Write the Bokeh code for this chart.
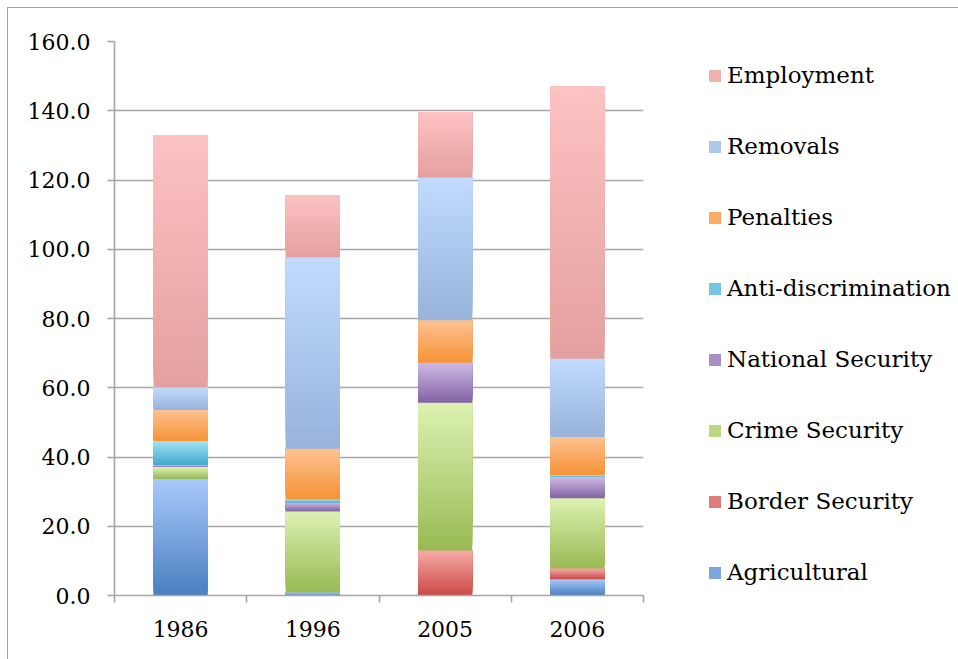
from bokeh.plotting import figure
from bokeh.models import (ColumnDataSource, Range1d, FixedTicker, NumeralTickFormatter,
                          Legend, LegendItem, SingleIntervalTicker)
from bokeh.embed import file_html
from bokeh.resources import INLINE

# ---- data ----
categories = ["1986", "1996", "2005", "2006"]
series = ["Agricultural", "Border Security", "Crime Security", "National Security",
          "Anti-discrimination", "Penalties", "Removals", "Employment"]
agricultural = [33.7, 0.9, 0.0, 4.7]
border_security = [0.0, 0.0, 13.0, 3.1]
crime_security = [3.4, 23.4, 42.7, 20.3]
national_security = [0.6, 2.6, 11.5, 6.1]
anti_discrimination = [6.9, 0.8, 0.0, 0.6]
penalties = [9.0, 14.7, 12.3, 11.0]
removals = [6.5, 55.3, 41.2, 22.6]
employment = [72.8, 17.9, 18.8, 78.6]
values = [agricultural, border_security, crime_security, national_security,
          anti_discrimination, penalties, removals, employment]

# gradient colours (light top, dark bottom)
light = ["#a9c9f9", "#f5aaa6", "#ddf2b2", "#cdbae6", "#a2e2f5", "#fdc292", "#c2dbff", "#fdc2c2"]
dark = ["#4a7fc2", "#cb4b47", "#99b953", "#8262a3", "#43a9cb", "#f69335", "#97b3db", "#e3a09e"]

FONT = "DejaVu Serif"
GRID = "#a6a6a6"

p = figure(frame_width=529, frame_height=554, output_backend="svg", toolbar_location=None,
           x_range=Range1d(0, 4), y_range=Range1d(0, 160),
           min_border_left=106, min_border_top=33, min_border_bottom=64, min_border_right=315,
           outline_line_color=None)
p.margin = (7, 0, 0, 7)
p.styles = {"border-top": "1px solid #a0a0a0", "border-left": "1px solid #a0a0a0"}


def hex2rgb(h):
    return tuple(int(h[i:i + 2], 16) for i in (1, 3, 5))


def rgb2hex(c):
    return "#%02x%02x%02x" % tuple(int(round(v)) for v in c)


N = 40
bar_w = 0.41
base = [0.0] * len(categories)
renderers = []
for s, (vals, lc, dc) in enumerate(zip(values, light, dark)):
    L, D = hex2rgb(lc), hex2rgb(dc)
    xs, bots, tops, cols = [], [], [], []
    for i, v in enumerate(vals):
        b0 = base[i]
        for k in range(N):
            f = (k + 0.5) / N
            xs.append(i + 0.5)
            # each slice reaches the segment top; later slices paint over it
            bots.append(b0 + v * k / N)
            tops.append(b0 + v)
            cols.append(rgb2hex([D[j] + (L[j] - D[j]) * f for j in range(3)]))
        base[i] = b0 + v
    src = ColumnDataSource(dict(x=xs, bottom=bots, top=tops, color=cols))
    r = p.vbar(x="x", bottom="bottom", top="top", width=bar_w, source=src,
               fill_color="color", line_color=None)
    renderers.append(r)

# axes
p.xgrid.visible = False
p.ygrid.ticker = SingleIntervalTicker(interval=20)
p.ygrid.grid_line_color = GRID
p.ygrid.grid_line_width = 1.6

ya = p.yaxis[0]
ya.ticker = SingleIntervalTicker(interval=20)
ya.formatter = NumeralTickFormatter(format="0.0")
ya.axis_line_color = GRID
ya.axis_line_width = 1.6
ya.major_tick_line_color = GRID
ya.major_tick_line_width = 1.6
ya.major_tick_out = 7
ya.major_tick_in = 0
ya.minor_tick_line_color = None
ya.major_label_text_font = FONT
ya.major_label_text_font_size = "22px"
ya.major_label_text_color = "#000000"
ya.major_label_standoff = 17

xa = p.xaxis[0]
xa.ticker = FixedTicker(ticks=[i + 0.5 for i in range(len(categories))],
                        minor_ticks=list(range(len(categories) + 1)))
xa.major_label_overrides = {i + 0.5: c for i, c in enumerate(categories)}
xa.axis_line_color = GRID
xa.axis_line_width = 1.6
xa.major_tick_line_color = None
xa.minor_tick_line_color = GRID
xa.minor_tick_line_width = 1.6
xa.minor_tick_out = 7
xa.minor_tick_in = 0
xa.major_label_text_font = FONT
xa.major_label_text_font_size = "22px"
xa.major_label_text_color = "#000000"
xa.major_label_standoff = 18

items = [LegendItem(label=series[s], renderers=[renderers[s]], index=N // 2)
         for s in reversed(range(len(series)))]
legend = Legend(items=items, location=(64, 10), orientation="vertical",
                padding=0, margin=0, spacing=45, label_height=20,
                glyph_height=15, glyph_width=15, label_standoff=5,
                label_text_font=FONT, label_text_font_size="23px",
                label_text_color="#000000",
                border_line_color=None, background_fill_alpha=0)
p.add_layout(legend, "right")

open("out.html", "w").write(file_html(p, INLINE))
